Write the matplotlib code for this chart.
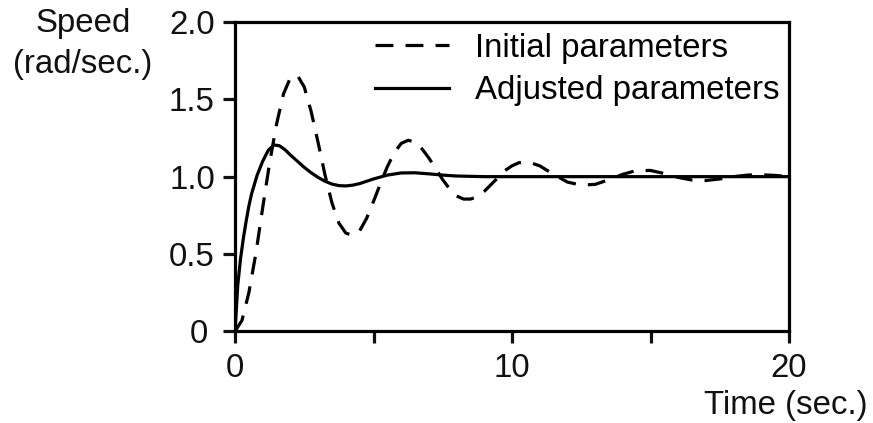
import numpy as np
import matplotlib.pyplot as plt

plt.rcParams['font.family'] = ['Liberation Sans', 'DejaVu Sans']

# step responses
t_initial = [0, 0.25, 0.5, 0.75, 1.0, 1.25, 1.5, 1.75, 2.0, 2.25, 2.5, 2.75,
             3.0, 3.25, 3.5, 3.75, 4.0, 4.25, 4.5, 4.75, 5.0, 5.25, 5.5, 5.75,
             6.0, 6.25, 6.5, 6.75, 7.0, 7.25, 7.5, 7.75, 8.0, 8.25, 8.5, 8.75,
             9.0, 9.25, 9.5, 9.75, 10.0, 10.25, 10.5, 10.75, 11.0, 11.5, 12.0,
             12.5, 13.0, 13.5, 14.0, 14.5, 15.0, 15.5, 16.0, 16.5, 17.0, 17.5,
             18.0, 18.5, 19.0, 19.5, 20.0]
speed_initial = [0, 0.07, 0.25, 0.50, 0.80, 1.09, 1.34, 1.535, 1.64, 1.655, 1.58, 1.42,
                 1.22, 1.01, 0.83, 0.70, 0.635, 0.62, 0.65, 0.73, 0.84, 0.955, 1.065, 1.155,
                 1.215, 1.235, 1.225, 1.18, 1.12, 1.05, 0.98, 0.92, 0.875, 0.855, 0.855, 0.87,
                 0.905, 0.95, 0.995, 1.04, 1.07, 1.09, 1.095, 1.085, 1.07, 1.015, 0.965,
                 0.945, 0.95, 0.98, 1.015, 1.04, 1.04, 1.02, 0.995, 0.978, 0.975, 0.985,
                 1.0, 1.01, 1.012, 1.008, 1.0]

t_adjusted = [0, 0.05, 0.1, 0.2, 0.3, 0.4, 0.5, 0.6, 0.8, 1.0, 1.2, 1.4, 1.6, 1.8,
              2.0, 2.25, 2.5, 2.75, 3.0, 3.25, 3.5, 3.75, 4.0, 4.25, 4.5, 5.0, 5.5,
              6.0, 6.5, 7.0, 7.5, 8.0, 9.0, 10.0, 20.0]
speed_adjusted = [0, 0.15, 0.30, 0.47, 0.60, 0.71, 0.81, 0.89, 1.01, 1.10, 1.17, 1.205, 1.20, 1.175,
                  1.14, 1.10, 1.06, 1.025, 0.995, 0.97, 0.952, 0.942, 0.94, 0.945, 0.955, 0.985, 1.01,
                  1.024, 1.025, 1.018, 1.01, 1.004, 1.0, 1.0, 1.0]

labels = ['Initial parameters', 'Adjusted parameters']
yticks = [0, 0.5, 1.0, 1.5, 2.0]
ytick_labels = ['0\u2009', '0.5', '1.0', '1.5', '2.0']

fs = 23.8
fig = plt.figure(figsize=(8.73, 4.23), dpi=100)
ax = fig.add_axes([0.2692, 0.2168, 0.6346, 0.7312])

lw = 2.3
ax.plot(t_initial, speed_initial, color='black', lw=lw, dashes=(5.6, 3.8), label=labels[0])
ax.plot(t_adjusted, speed_adjusted, color='black', lw=lw, label=labels[1])

ax.set_xlim(0, 20)
ax.set_ylim(0, 2)
ax.set_xticks([0, 10, 20])
ax.set_xticks([5, 15], minor=True)
ax.set_yticks(yticks)
ax.set_yticklabels(ytick_labels)

for s in ax.spines.values():
    s.set_linewidth(lw)
ax.tick_params(which='both', direction='out', length=8.5, width=lw,
               labelsize=fs, colors='#111111')
ax.tick_params(axis='y', pad=6)
ax.tick_params(axis='x', pad=7)

ax.legend(loc='upper left', bbox_to_anchor=(0.2527, 0.965), frameon=False,
          fontsize=fs, handlelength=2.24, handletextpad=0.77, labelspacing=0.35,
          borderpad=0, borderaxespad=0)

fig.text(83 / 873, 1 - 32 / 423, 'Speed', fontsize=fs, ha='center', va='baseline', color='#111111')
fig.text(83 / 873, 1 - 73 / 423, '(rad/sec.)', fontsize=fs, ha='center', va='baseline', color='#111111')
fig.text(868 / 873, 1 - 414 / 423, 'Time (sec.)', fontsize=fs, ha='right', va='baseline', color='#111111')

fig.savefig('out.png', dpi=100)
